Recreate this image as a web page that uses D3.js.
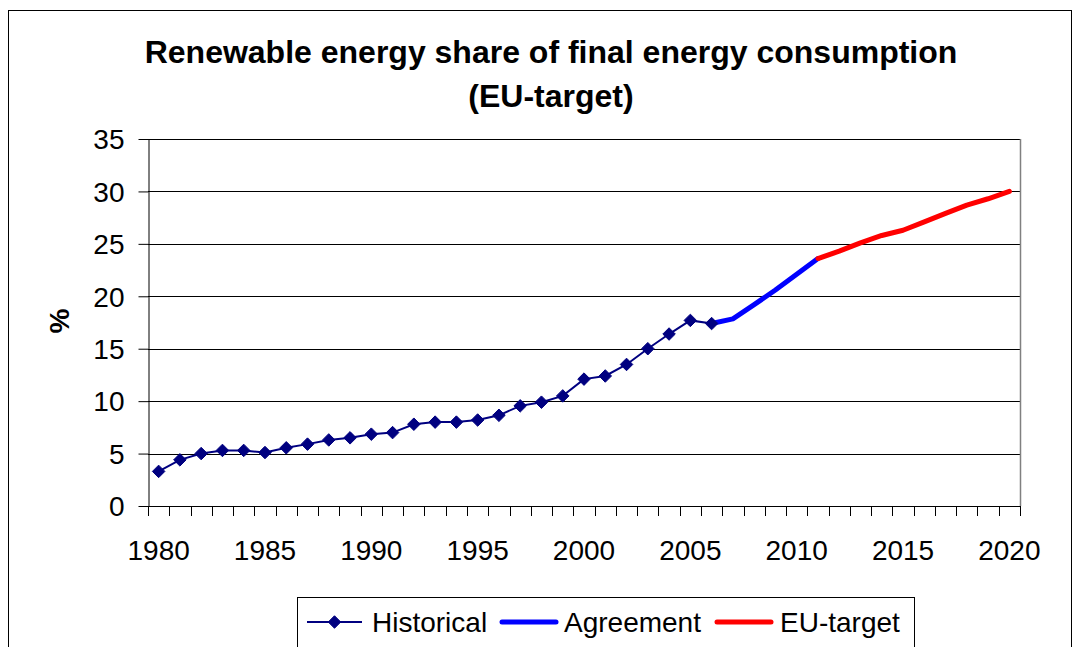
<!DOCTYPE html>
<meta charset="utf-8">
<head>
<script src="https://d3js.org/d3.v7.min.js"></script>
<style>
body { margin: 0; background: #fff; }
text { font-family: "Liberation Sans", Arial, sans-serif; fill: #000; }
</style>
</head>
<body>
<script>

// data
var years = d3.range(1980, 2021);
var histYears = d3.range(1980, 2007);
var historical = [3.3, 4.4, 5.0, 5.3, 5.3, 5.1, 5.55, 5.9, 6.3, 6.5, 6.85, 7.0, 7.8, 8.0, 8.0, 8.2, 8.65, 9.55, 9.9, 10.5, 12.1, 12.4, 13.5, 15.0, 16.4, 17.7, 17.4];
var agreeYears = [2006, 2007, 2008, 2009, 2010, 2011];
var agreement = [17.4, 17.85, 19.2, 20.6, 22.1, 23.6];
var targetYears = [2011, 2012, 2013, 2014, 2015, 2016, 2017, 2018, 2019, 2020];
var target = [23.6, 24.3, 25.1, 25.8, 26.3, 27.1, 27.9, 28.7, 29.3, 30.0];
var yTicks = [0, 5, 10, 15, 20, 25, 30, 35];
var xLabels = [1980, 1985, 1990, 1995, 2000, 2005, 2010, 2015, 2020];

var W = 1077, H = 647;
var plot = {left: 148, right: 1020, top: 139, bottom: 506};

var svg = d3.select("body").append("svg")
    .attr("width", W)
    .attr("height", H);

// outer chart border
svg.append("rect")
    .attr("x", 8.5).attr("y", 10.5)
    .attr("width", 1063).attr("height", 700)
    .attr("fill", "none").attr("stroke", "#000");

var x = d3.scaleBand().domain(years).range([plot.left, plot.right]).padding(0);
var cx = function(d) { return x(d) + x.bandwidth() / 2; };
var y = d3.scaleLinear().domain([0, 35]).range([plot.bottom, plot.top]);

// title
svg.append("text")
    .attr("x", 551).attr("y", 63)
    .attr("text-anchor", "middle")
    .style("font-size", "32px").style("font-weight", "bold")
    .text("Renewable energy share of final energy consumption");
svg.append("text")
    .attr("x", 551).attr("y", 107)
    .attr("text-anchor", "middle")
    .style("font-size", "32px").style("font-weight", "bold")
    .text("(EU-target)");

// grid
svg.append("g").selectAll("line")
    .data(yTicks.slice(1))
    .enter().append("line")
    .attr("x1", plot.left).attr("x2", plot.right)
    .attr("y1", function(d) { return Math.round(y(d)) + 0.5; })
    .attr("y2", function(d) { return Math.round(y(d)) + 0.5; })
    .attr("stroke", "#000");

// right border of plot area
svg.append("line")
    .attr("x1", plot.right + 0.5).attr("x2", plot.right + 0.5)
    .attr("y1", plot.top).attr("y2", plot.bottom)
    .attr("stroke", "#808080").attr("stroke-width", 1.5);

// y axis
var yAxis = svg.append("g")
    .attr("transform", "translate(" + (plot.left + 0.5) + ",0)")
    .call(d3.axisLeft(y).tickValues(yTicks).tickSize(10).tickSizeOuter(0).tickPadding(14));
yAxis.selectAll("text").style("font-size", "28px").attr("dy", "0.35em");
yAxis.selectAll("line, path").attr("stroke", "#000");

svg.append("text")
    .attr("transform", "translate(69,321) rotate(-90)")
    .attr("text-anchor", "middle")
    .style("font-size", "28px").style("font-weight", "bold")
    .text("%");

// x axis: line, ticks between categories, labels every 5 years
svg.append("line")
    .attr("x1", plot.left).attr("x2", plot.right + 1)
    .attr("y1", plot.bottom + 0.5).attr("y2", plot.bottom + 0.5)
    .attr("stroke", "#000");
svg.append("g").selectAll("line")
    .data(years.concat([null]))
    .enter().append("line")
    .attr("x1", function(d) { return Math.round(d === null ? plot.right : x(d)) + 0.5; })
    .attr("x2", function(d) { return Math.round(d === null ? plot.right : x(d)) + 0.5; })
    .attr("y1", plot.bottom).attr("y2", plot.bottom + 10)
    .attr("stroke", "#000");
svg.append("g").selectAll("text")
    .data(xLabels)
    .enter().append("text")
    .attr("x", cx).attr("y", 560)
    .attr("text-anchor", "middle")
    .style("font-size", "28px")
    .text(function(d) { return d; });

// lines
var line = d3.line()
    .x(function(d) { return cx(d[0]); })
    .y(function(d) { return y(d[1]); });

svg.append("path")
    .datum(d3.zip(agreeYears, agreement))
    .attr("d", line)
    .attr("fill", "none").attr("stroke", "#0000ff")
    .attr("stroke-width", 5).attr("stroke-linecap", "round").attr("stroke-linejoin", "round");
svg.append("path")
    .datum(d3.zip(targetYears, target))
    .attr("d", line)
    .attr("fill", "none").attr("stroke", "#ff0000")
    .attr("stroke-width", 5).attr("stroke-linecap", "round").attr("stroke-linejoin", "round");

var hist = d3.zip(histYears, historical);
svg.append("path")
    .datum(hist)
    .attr("d", line)
    .attr("fill", "none").attr("stroke", "#000080").attr("stroke-width", 2);
var diamond = d3.symbol().type(d3.symbolDiamond2).size(100);
svg.append("g").selectAll("path")
    .data(hist)
    .enter().append("path")
    .attr("d", diamond)
    .attr("transform", function(d) { return "translate(" + cx(d[0]) + "," + y(d[1]) + ")"; })
    .attr("fill", "#000080").attr("stroke", "#000080");

// legend
var leg = svg.append("g");
leg.append("rect")
    .attr("x", 297.5).attr("y", 597.5)
    .attr("width", 617).attr("height", 70)
    .attr("fill", "#fff").attr("stroke", "#000");
var legItems = [
  {name: "Historical", x1: 307, x2: 362, tx: 372, color: "#000080", w: 2, marker: true},
  {name: "Agreement", x1: 502, x2: 556, tx: 564, color: "#0000ff", w: 5},
  {name: "EU-target", x1: 717, x2: 771, tx: 780, color: "#ff0000", w: 5}
];
legItems.forEach(function(it) {
  leg.append("line")
      .attr("x1", it.x1).attr("x2", it.x2)
      .attr("y1", 622).attr("y2", 622)
      .attr("stroke", it.color).attr("stroke-width", it.w)
      .attr("stroke-linecap", it.marker ? "butt" : "round");
  if (it.marker) {
    leg.append("path")
        .attr("d", diamond)
        .attr("transform", "translate(" + ((it.x1 + it.x2) / 2) + ",622)")
        .attr("fill", it.color).attr("stroke", it.color);
  }
  leg.append("text")
      .attr("x", it.tx).attr("y", 632)
      .style("font-size", "28px")
      .text(it.name);
});

</script>
</body>
